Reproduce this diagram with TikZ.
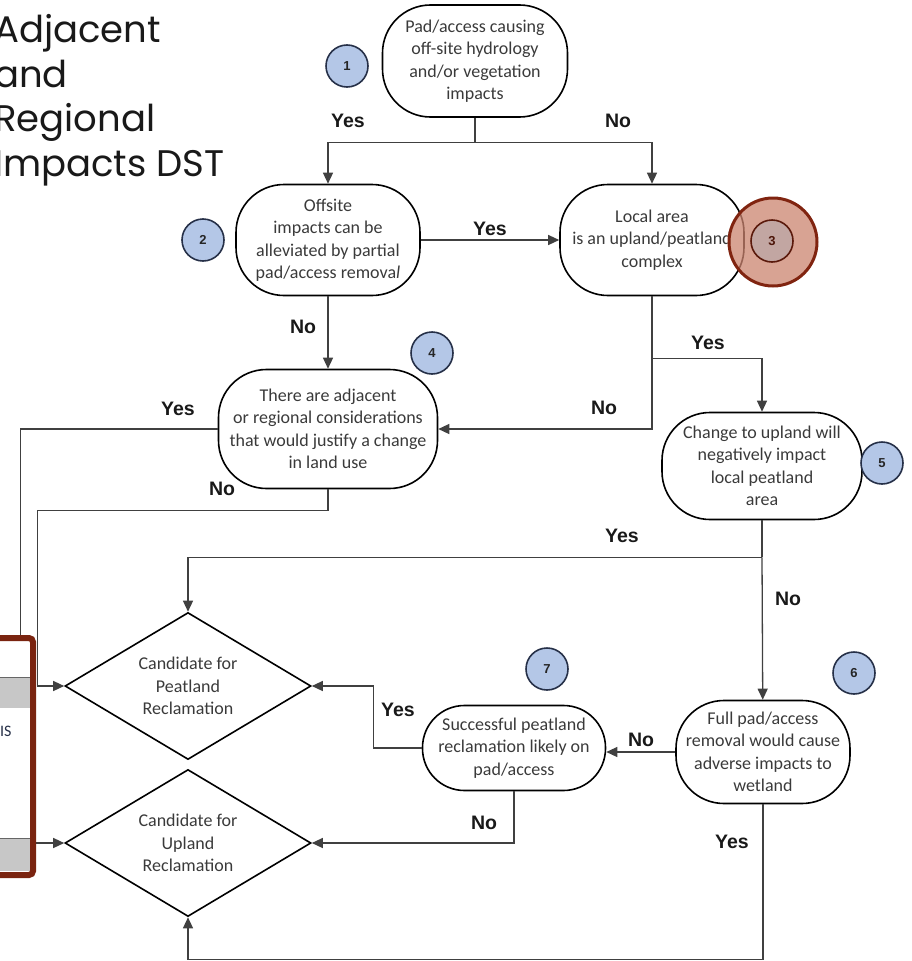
\documentclass[tikz,border=0pt]{standalone}
\usepackage{fontspec}
\setmainfont{Carlito}
\newfontfamily\labfont{Liberation Sans}
\newfontfamily\headfont{Poppins}
\usetikzlibrary{arrows.meta,shapes.geometric}
\definecolor{badgeblue}{RGB}{180,199,231}
\definecolor{badgeline}{RGB}{38,48,72}
\definecolor{hlred}{RGB}{203,132,111}
\definecolor{hldark}{RGB}{128,36,16}
\definecolor{boxred}{RGB}{122,36,16}
\definecolor{txtgray}{RGB}{58,58,58}

\begin{document}
\begin{tikzpicture}[x=1pt,y=-1pt,
	proc/.style={draw,line width=1.6pt,rounded corners=48pt,align=center,text=txtgray,
		font=\fontsize{18}{22.5}\selectfont,inner sep=0pt},
	choice/.style={draw,diamond,aspect=1.68,line width=1.6pt,minimum width=246pt,minimum height=147pt,
		inner sep=0pt,align=center,text=txtgray,font=\fontsize{18}{22.5}\selectfont},
	lab/.style={font=\labfont\bfseries\fontsize{19.5}{22}\selectfont,text=black!90},
	badge/.style={circle,draw=badgeline,line width=1.6pt,fill=badgeblue,minimum size=42pt,
		inner sep=0pt,font=\labfont\bfseries\fontsize{13}{15}\selectfont,text=black!85},
	link/.style={draw=black!75,line width=1.3pt},
	arr/.style={link,-{Triangle[length=11pt,width=10pt]}}]
	\useasboundingbox (0,0) rectangle (911,961);
	\node[anchor=north west,align=left,inner sep=0pt,text=black!90,
		font=\headfont\fontsize{37}{44.7}\selectfont] (title) at (-6,14) {Adjacent\\and\\Regional\\Impacts DST};
	% decision steps
	\node[proc,minimum width=185pt,minimum height=112pt] (pad) at (475,61) {Pad/access causing\\off-site hydrology\\and/or vegetation\\impacts};
	\node[proc,minimum width=184pt,minimum height=111pt] (offs) at (328,240) {Offsite\\impacts can be\\alleviated by partial\\pad/access remova\textit{l}};
	\node[proc,minimum width=184pt,minimum height=111pt] (local) at (652,240) {Local area\\is an upland/peatland\\complex};
	\node[proc,minimum width=219pt,minimum height=119pt] (adj) at (328,429) {There are adjacent\\or regional considerations\\that would justify a change\\in land use};
	\node[proc,minimum width=200pt,minimum height=107pt] (chg) at (762,466) {Change to upland will\\negatively impact\\local peatland\\area};
	\node[proc,minimum width=174pt,minimum height=103pt] (full) at (763,752) {Full pad/access\\removal would cause\\adverse impacts to\\wetland};
	\node[proc,minimum width=183pt,minimum height=85pt,rounded corners=42pt] (succ) at (514,748) {Successful peatland\\reclamation likely on\\pad/access};
	\node[choice] (peat) at (188,686) {Candidate for\\Peatland\\Reclamation};
	\node[choice] (upl) at (188,843) {Candidate for\\Upland\\Reclamation};
	% connectors
	\path (pad.south) ++(0,25) coordinate (j1);
	\draw[link] (pad) -- (j1);
	\draw[arr] (j1) -| (offs);
	\draw[arr] (j1) -| (local);
	\draw[arr] (offs) -- (local);
	\draw[arr] (offs) -- (adj);
	\path (local.south) ++(0,62) coordinate (j2);
	\draw[link] (local) -- (j2);
	\draw[arr] (j2) -| (chg);
	\draw[arr] (j2) |- (adj);
	\path (chg.south) ++(0,37) coordinate (j3);
	\draw[link] (chg) -- (j3);
	\draw[arr] (j3) -| (peat);
	\draw[arr] (j3) -- (full);
	\draw[arr] (full.west) -- (full.west -| succ.east);
	\draw[arr] (succ.west) -- ++(-48,0) |- (peat);
	\draw[arr] (succ) |- (upl);
	\draw[arr] (full.south) -- ++(0,155) -| (upl);
	\draw[arr] (adj.west) -| ([xshift=-44pt]upl.west) -- (upl.west);
	\draw[arr] (adj.south) -- ++(0,21) -| ([xshift=-27pt]peat.west) -- (peat.west);
	% branch labels
	\node[lab] (y1) at (348,121) {Yes};
	\node[lab] (n1) at (618,121) {No};
	\node[lab] (y2) at (490,229) {Yes};
	\node[lab] (n2) at (303,327) {No};
	\node[lab] (y3) at (708,343) {Yes};
	\node[lab] (n3) at (604,408) {No};
	\node[lab] (y4) at (178,409) {Yes};
	\node[lab] (n4) at (222,489) {No};
	\node[lab] (y5) at (622,536) {Yes};
	\node[lab] (n5) at (788,599) {No};
	\node[lab] (y7) at (398,710) {Yes};
	\node[lab] (n6) at (641,740) {No};
	\node[lab] (n7) at (484,823) {No};
	\node[lab] (y6) at (732,842) {Yes};
	% step numbers
	\foreach \n/\x/\y in {1/347/66,2/203/240,4/432/353,5/882/463,6/854/673,7/547/669}
		\node[badge] (b\n) at (\x,\y) {\n};
	\node[circle,minimum size=88pt,fill=hlred,fill opacity=0.75,draw=hldark,line width=3pt] (hl) at (773,242) {};
	\node[badge,fill=hlred!70!badgeline!60,draw=hldark!70!black,text=hldark!60!black] (b3) at (772,241) {3};
	% side panel
	\fill[white,rounded corners=4pt] (-20,638) rectangle (33,875);
	\fill[black!22] (-20,677) rectangle (33,708);
	\fill[black!22] (-20,838) rectangle (33,871);
	\draw[black!60,line width=0.8pt] (-20,677) -- (33,677) (-20,838) -- (33,838);
	\node[anchor=west,inner sep=0pt,text=badgeline,font=\fontsize{16}{18}\selectfont] (side) at (0,731) {IS};
	\draw[boxred,line width=6pt,rounded corners=4pt] (-20,638) rectangle (33,875);
\end{tikzpicture}
\end{document}
